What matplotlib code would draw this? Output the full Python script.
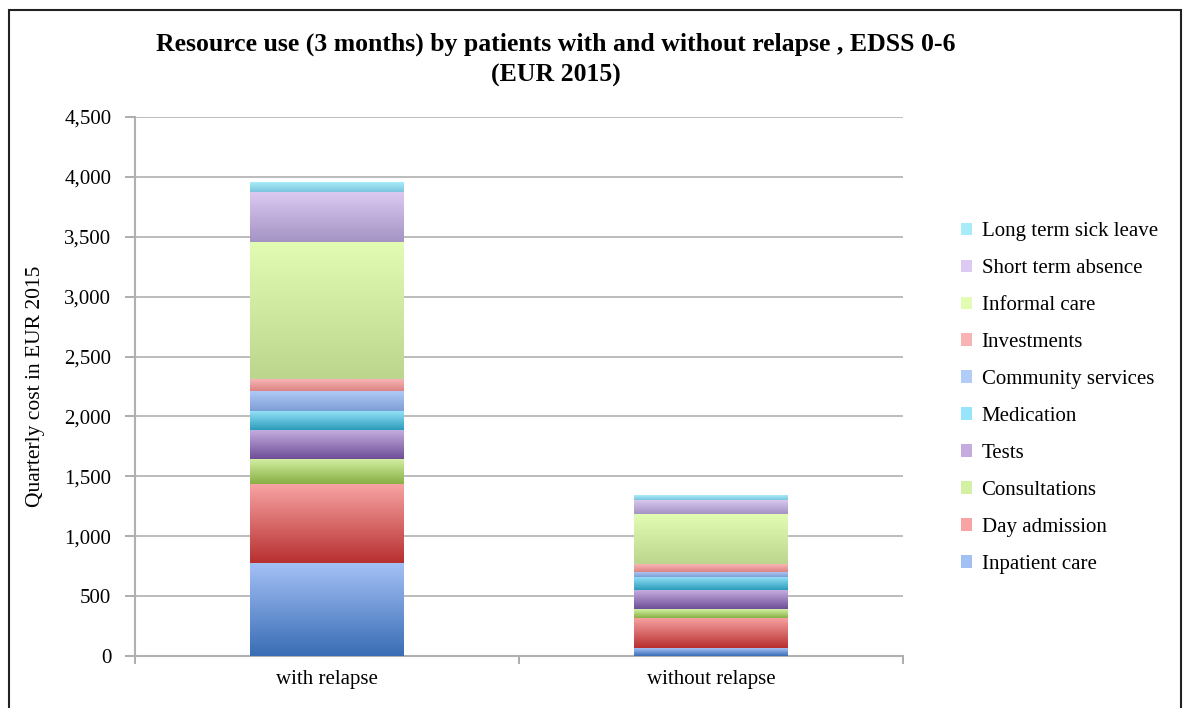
import numpy as np
import matplotlib
matplotlib.use("Agg")
import matplotlib.pyplot as plt
from matplotlib.colors import LinearSegmentedColormap
from matplotlib.patches import Rectangle
from matplotlib.ticker import FuncFormatter

plt.rcParams['font.family'] = ['Liberation Serif', 'DejaVu Serif']

groups = ['with relapse', 'without relapse']
categories = ['Inpatient care', 'Day admission', 'Consultations', 'Tests', 'Medication',
              'Community services', 'Investments', 'Informal care', 'Short term absence',
              'Long term sick leave']
with_relapse = [776, 660, 211, 240, 161, 167, 95, 1146, 418, 83]
without_relapse = [64, 256, 75, 156, 111, 42, 64, 415, 119, 34]

# (top colour, bottom colour) of each segment's vertical gradient
shades = [('#a3c0f5', '#3a6db5'),
          ('#f8a4a4', '#b83030'),
          ('#d4f0a4', '#88b044'),
          ('#c4acde', '#6e4e98'),
          ('#98e4fa', '#2c9cbc'),
          ('#b2ccf8', '#7e9ed6'),
          ('#f8b4b4', '#dc8484'),
          ('#e2fcb4', '#bcd68e'),
          ('#dccaf2', '#a494c4'),
          ('#a8ecfa', '#7cc4de')]

fig = plt.figure(figsize=(11.83, 7.08), dpi=100)
ax = fig.add_axes([135 / 1183, 1 - 656 / 708, 768 / 1183, 539 / 708])

x = np.arange(len(groups))
width = 0.4
data = np.array([with_relapse, without_relapse])
bottoms = np.zeros(len(groups))
handles = []
for i, cat in enumerate(categories):
    top_c, bot_c = shades[i]
    cmap = LinearSegmentedColormap.from_list(cat, [bot_c, top_c])
    bars = ax.bar(x, data[:, i], width, bottom=bottoms, color=top_c, label=cat,
                  edgecolor='none', zorder=2)
    for b in bars:
        bx, by = b.get_x(), b.get_y()
        bw, bh = b.get_width(), b.get_height()
        grad = np.linspace(0, 1, 64).reshape(-1, 1)
        ax.imshow(grad, cmap=cmap, origin='lower', aspect='auto',
                  extent=[bx, bx + bw, by, by + bh], zorder=3, interpolation='bilinear')
    handles.append(bars)
    bottoms += data[:, i]

ax.set_xlim(-0.5, 1.5)
ax.set_ylim(0, 4500)
ax.set_yticks(np.arange(0, 4501, 500))
ax.yaxis.set_major_formatter(FuncFormatter(lambda v, p: f'{int(v):,}'))
ax.set_xticks(x)
ax.set_xticklabels(groups)
ax.set_xticks([-0.5, 0.5, 1.5], minor=True)
ax.tick_params(axis='x', which='major', length=0, labelsize=15, pad=10)
ax.tick_params(axis='x', which='minor', length=6, color='#a0a0a0', width=1.2)
ax.tick_params(axis='y', length=7, color='#a0a0a0', width=1.2, labelsize=15, pad=10)
ax.grid(axis='y', color='#b0b0b0', linewidth=1.2, zorder=0)
ax.set_axisbelow(True)
for s in ['top', 'right']:
    ax.spines[s].set_visible(False)
for s in ['left', 'bottom']:
    ax.spines[s].set_color('#b0b0b0')
    ax.spines[s].set_linewidth(1.5)

ax.set_ylabel('Quarterly cost in EUR 2015', fontsize=15.5, labelpad=14)

fig.text(556 / 1183, 1 - 60 / 708,
         'Resource use (3 months) by patients with and without relapse , EDSS 0-6\n(EUR 2015)',
         ha='center', va='center', fontsize=18.5, fontweight='bold', linespacing=1.45)

leg = fig.legend(handles[::-1], categories[::-1], loc='center left',
                 bbox_to_anchor=(942 / 1183, 1 - 398 / 708), frameon=False,
                 fontsize=15, labelspacing=0.86, handlelength=0.55, handleheight=0.55,
                 handletextpad=0.45)

fig.patches.append(Rectangle((9 / 1183, -0.01), 1172 / 1183, 1 - 10 / 708 + 0.01,
                             transform=fig.transFigure, fill=False,
                             edgecolor='#222222', linewidth=1.5))

fig.savefig('out.png', dpi=100)
